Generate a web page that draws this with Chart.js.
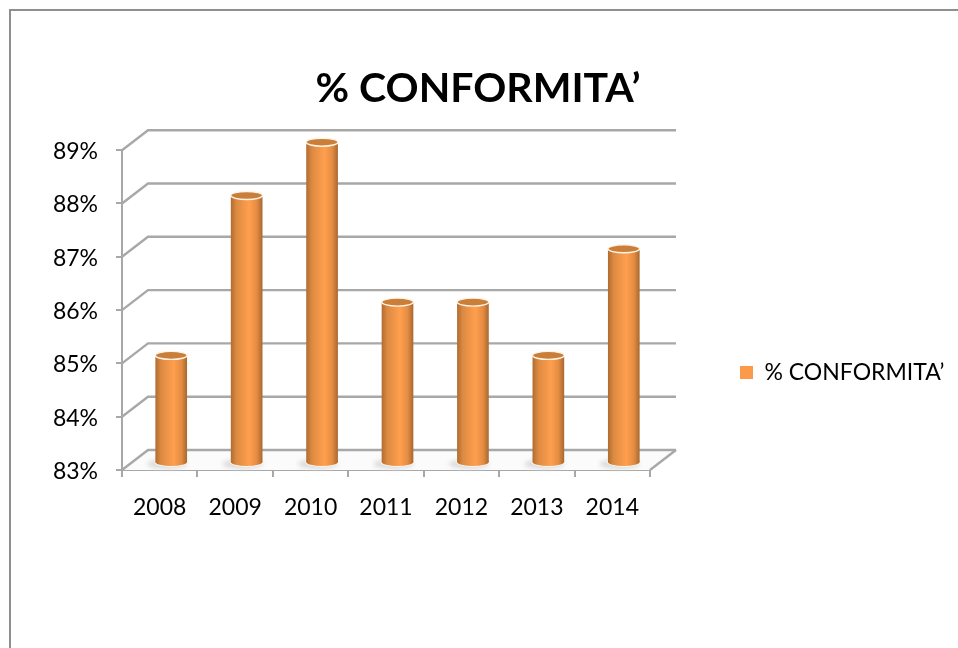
<!DOCTYPE html>
<html>
<head>
<meta charset="utf-8">
<script src="https://cdn.jsdelivr.net/npm/chart.js@4"></script>
<style>
html,body{margin:0;padding:0;background:#fff}
#wrap{position:relative;width:958px;height:648px;overflow:hidden}
#frame{position:absolute;left:9px;top:9px;right:-4px;bottom:-4px;border:2px solid #8f8f8f;box-sizing:border-box}
canvas{position:absolute;left:0;top:0}
</style>
</head>
<body>
<div id="wrap"><div id="frame"></div><canvas id="c" width="958" height="648"></canvas></div>
<script>
const categories = ['2008','2009','2010','2011','2012','2013','2014'];
const conformita = [85,88,89,86,86,85,87];
const seriesName = '% CONFORMITA\u2019';
const yMin = 83, yMax = 89, yStep = 1;

const FONT = 'Lato, "Open Sans", sans-serif';
const GRID = '#a8a8a8';
const DEPTH_X = 26, DEPTH_Y = 20;   // wall depth
const BAR_X = 11.5, BAR_Y = 7;      // bars stand mid-floor
const RY = 4;

function barGradient(ctx, x0, x1){
  const g = ctx.createLinearGradient(x0,0,x1,0);
  g.addColorStop(0,'#b06c30');
  g.addColorStop(0.18,'#dd8a42');
  g.addColorStop(0.58,'#ff9f4e');
  g.addColorStop(0.82,'#e48c42');
  g.addColorStop(1,'#a96830');
  return g;
}

const walls = {
  id:'walls',
  beforeDatasetsDraw(chart){
    const {ctx, chartArea:a, scales:{y}} = chart;
    ctx.save();
    const by = y.getPixelForValue(yMin);
    ctx.beginPath();
    ctx.moveTo(a.left,by); ctx.lineTo(a.left+DEPTH_X,by-DEPTH_Y);
    ctx.lineTo(a.right+DEPTH_X,by-DEPTH_Y); ctx.lineTo(a.right,by); ctx.closePath();
    ctx.fillStyle='#fbfbfb'; ctx.fill();
    ctx.strokeStyle=GRID; ctx.lineWidth=2.4;
    for(let v=yMin;v<=yMax;v+=yStep){
      const p=y.getPixelForValue(v);
      ctx.beginPath();
      ctx.moveTo(a.left,p);
      ctx.lineTo(a.left+DEPTH_X,p-DEPTH_Y);
      ctx.lineTo(a.right+DEPTH_X,p-DEPTH_Y);
      ctx.stroke();
    }
    ctx.beginPath();
    ctx.moveTo(a.right+DEPTH_X,by-DEPTH_Y); ctx.lineTo(a.right,by);
    ctx.stroke();
    ctx.restore();
  },
  beforeDatasetDraw(chart,args){
    const {ctx} = chart;
    const bars = chart.getDatasetMeta(args.index).data;
    ctx.save();
    ctx.translate(BAR_X,-BAR_Y);
    bars.forEach(b=>{
      const w=b.width/2;
      ctx.save();
      ctx.beginPath();
      ctx.ellipse(b.x-4,b.base+2,w+4,RY+1,0,0,Math.PI*2);
      ctx.filter='blur(2px)';
      ctx.fillStyle='#dcdcdc'; ctx.fill();
      ctx.restore();
      ctx.beginPath();
      ctx.ellipse(b.x,b.base,w+1,RY+1,0,0,Math.PI*2);
      ctx.fillStyle='#fff6ee'; ctx.fill();
      ctx.beginPath();
      ctx.ellipse(b.x,b.base,w,RY,0,0,Math.PI*2);
      ctx.fillStyle=barGradient(ctx,b.x-w,b.x+w); ctx.fill();
    });
  },
  afterDatasetDraw(chart,args){
    const {ctx} = chart;
    const bars = chart.getDatasetMeta(args.index).data;
    bars.forEach(b=>{
      const w=b.width/2;
      ctx.beginPath();
      ctx.ellipse(b.x,b.y-1,w,RY,0,0,Math.PI*2);
      ctx.fillStyle='#c97f3a'; ctx.fill();
      ctx.strokeStyle='#fff3e6'; ctx.lineWidth=1.4; ctx.stroke();
    });
    ctx.restore();
  },
  afterLayout(chart){
    const l=chart.legend;
    const w=l.right-l.left, h=l.bottom-l.top;
    l.left=730; l.right=730+w;
    l.top=351; l.bottom=351+h;
    const t=chart.titleBlock;
    t.left=0; t.right=956;
  }
};

new Chart(document.getElementById('c'),{
  type:'bar',
  data:{labels:categories,datasets:[{
    label:seriesName,
    data:conformita,
    borderWidth:0,
    barPercentage:0.42,
    categoryPercentage:1,
    base:yMin,
    backgroundColor(c){
      const chart=c.chart, x=chart.scales.x;
      if(!x||c.dataIndex===undefined) return '#fb9a4a';
      const cx=x.getPixelForValue(c.dataIndex);
      const hw=(x.width/categories.length)*0.42/2;
      return barGradient(chart.ctx,cx-hw,cx+hw);
    }
  }]},
  options:{
    responsive:false,animation:false,
    layout:{padding:{left:22,right:308,top:64,bottom:128}},
    plugins:{
      tooltip:{enabled:false},
      title:{display:true,text:seriesName,color:'#000',
        font:{family:FONT,size:41,weight:'bold',lineHeight:1.2},
        padding:{top:0,bottom:37}},
      legend:{position:'chartArea',align:'start',
        labels:{font:{family:FONT,size:23},color:'#000',boxWidth:13,boxHeight:13,padding:10,
          generateLabels:()=>[{text:seriesName,fillStyle:'#fb9a4a',strokeStyle:'#fb9a4a',lineWidth:0,fontColor:'#000'}]}}
    },
    scales:{
      x:{
        afterFit(s){s.height=50},
        grid:{display:true,drawOnChartArea:false,drawTicks:true,tickLength:7,color:GRID,lineWidth:2,offset:true},
        border:{color:GRID,width:2},
        ticks:{font:{family:FONT,size:23},color:'#000',padding:17,maxRotation:0}
      },
      y:{
        min:yMin,max:yMax,
        afterFit(s){s.width=100},
        grid:{display:true,drawOnChartArea:false,drawTicks:true,tickLength:6,color:GRID,lineWidth:2},
        border:{color:GRID,width:2},
        ticks:{stepSize:yStep,font:{family:FONT,size:23},color:'#000',padding:18,labelOffset:1.5,callback:v=>v+'%'}
      }
    }
  },
  plugins:[walls]
});
</script>
</body>
</html>
